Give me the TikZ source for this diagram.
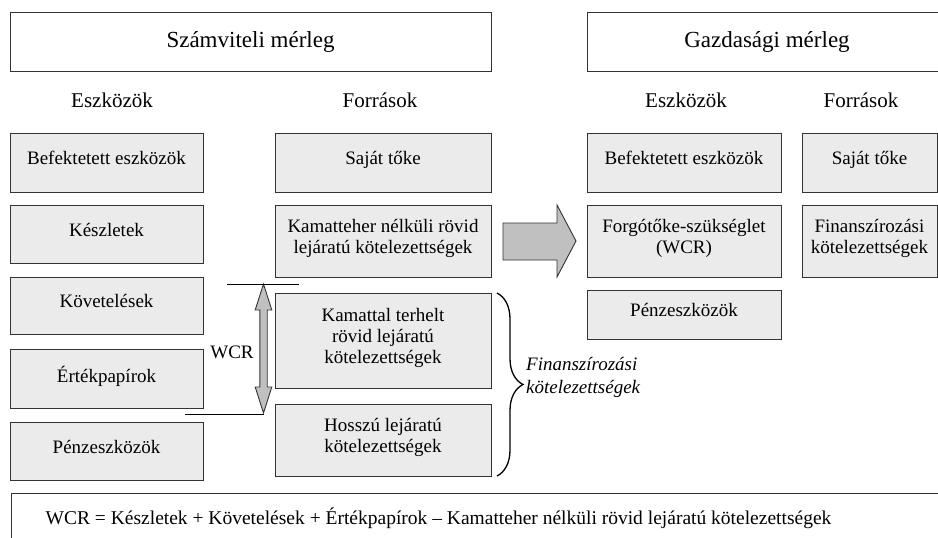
\documentclass[tikz,border=0pt]{standalone}
\usepackage{fontspec}
\setmainfont{Liberation Serif}
\usetikzlibrary{decorations.pathreplacing,calc}
\definecolor{boxfill}{HTML}{EBEBEB}
\definecolor{arrfill}{HTML}{C0C0C0}
\definecolor{edge}{HTML}{333333}
\begin{document}
\begin{tikzpicture}[x=1pt,y=-1pt,
  box/.style={draw=edge, fill=boxfill, line width=0.9pt, align=center, inner sep=0pt,
    text depth=9pt, font=\fontsize{19}{21}\selectfont},
  titlebox/.style={draw=edge, line width=0.9pt, inner sep=0pt, font=\fontsize{23}{26}\selectfont},
  lbl/.style={inner sep=0pt, font=\fontsize{21}{24}\selectfont},
  plain/.style={inner sep=0pt, align=left, font=\fontsize{19}{22}\selectfont},
  garrow/.style={draw=edge, fill=arrfill, line width=0.9pt, line join=miter},
  thin/.style={draw=black, line width=0.9pt}]
\useasboundingbox (0,0) rectangle (938,538);
\clip (0,0) rectangle (938,538);
% titles
\node[titlebox, minimum width=481pt, minimum height=59pt] (t1) at (250.5,41.5) {Számviteli mérleg};
\node[titlebox, minimum width=360pt, minimum height=59pt] (t2) at (767,41.5) {Gazdasági mérleg};
% column labels
\node[lbl] (l1) at (112,100) {Eszközök};
\node[lbl] (l2) at (380,100) {Források};
\node[lbl] (l3) at (686,100) {Eszközök};
\node[lbl] (l4) at (861,100) {Források};
% left column
\node[box, minimum width=193pt, minimum height=59pt] (bef) at (106.5,162.5) {Befektetett eszközök};
\node[box, minimum width=193pt, minimum height=58pt] (kesz) at (106.5,234) {Készletek};
\node[box, minimum width=193pt, minimum height=57pt] (kov) at (106.5,305.5) {Követelések};
\node[box, minimum width=193pt, minimum height=59pt] (ert) at (106.5,378.5) {Értékpapírok};
\node[box, minimum width=193pt, minimum height=58pt] (penz) at (106.5,451) {Pénzeszközök};
% sources column
\node[box, minimum width=216pt, minimum height=59pt] (sajat) at (383,162.5) {Saját tőke};
\node[box, minimum width=216pt, minimum height=72pt] (kt) at (383,241) {Kamatteher nélküli rövid\\lejáratú kötelezettségek};
\node[box, minimum width=216pt, minimum height=95pt] (kterh) at (383,340.5) {Kamattal terhelt\\rövid lejáratú\\kötelezettségek};
\node[box, minimum width=216pt, minimum height=72pt] (hossz) at (383,440) {Hosszú lejáratú\\kötelezettségek};
% economic balance
\node[box, minimum width=194pt, minimum height=59pt] (bef2) at (684,162.5) {Befektetett eszközök};
\node[box, minimum width=194pt, minimum height=72pt] (forg) at (684,241) {Forgótőke-szükséglet\\(WCR)};
\node[box, minimum width=194pt, minimum height=49pt] (penz2) at (684,314.5) {Pénzeszközök};
\node[box, minimum width=135pt, minimum height=59pt] (sajat2) at (869.5,162.5) {Saját tőke};
\node[box, minimum width=135pt, minimum height=72pt] (fin) at (869.5,241) {Finanszírozási\\kötelezettségek};
% big arrow
\draw[garrow] (503,223) -- (557,223) -- (557,205) -- (576,241) -- (557,277) -- (557,260) -- (503,260) -- cycle;
% WCR double arrow
\coordinate (wtop) at (263.5,284);
\coordinate (wbot) at (263.5,413);
\draw[garrow] (wtop) -- ++(8.3,26) -- ++(-4.6,0) -- ($(wbot)+(3.7,-26)$) -- ++(4.6,0) -- (wbot)
  -- ++(-8.3,-26) -- ++(4.6,0) -- ($(wtop)+(-3.7,26)$) -- ++(-4.6,0) -- cycle;
\coordinate (ta) at (227,284);
\coordinate (tb) at (299,284);
\draw[thin] (ta) -- (tb);
\coordinate (ba) at (185,414);
\coordinate (bb) at (264,414);
\draw[thin] (ba) -- (bb);
\node[plain] (wcr) at (232,352) {WCR};
% brace
\coordinate (br1) at (497,293);
\coordinate (br2) at (497,476);
\draw[draw=black, line width=1.3pt, decorate, decoration={brace, amplitude=26pt}] (br1) -- (br2);
\node[plain, anchor=west, font=\fontsize{19}{23}\selectfont\itshape] (finlbl) at (526,377) {Finanszírozási\\kötelezettségek};
% bottom formula
\draw[edge, line width=0.9pt] (11,560) -- (11,493) -- (960,493);
\node[inner sep=0pt, font=\fontsize{19.5}{22}\selectfont] (formula) at (438.5,518) {WCR = Készletek + Követelések + Értékpapírok – Kamatteher nélküli rövid lejáratú kötelezettségek};
\end{tikzpicture}
\end{document}
